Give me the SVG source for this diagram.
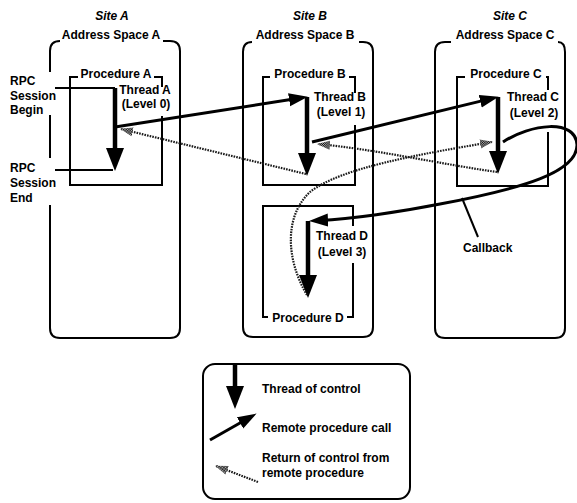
<svg xmlns="http://www.w3.org/2000/svg" width="577" height="503" viewBox="0 0 577 503">
<style>
text{font-family:"Liberation Sans",Arial,sans-serif;font-size:12px;font-weight:bold;fill:#000}
.site{font-style:italic}
.mid{text-anchor:middle}
.box{fill:none;stroke:#000;stroke-width:2}
.thread{fill:none;stroke:#000;stroke-width:4.5;marker-end:url(#thr)}
.rpc{fill:none;stroke:#000;stroke-width:3;marker-end:url(#call)}
.ret{fill:none;stroke:#1a1a1a;stroke-width:2.2;stroke-dasharray:1.6 1.1;marker-end:url(#back)}
.lead{fill:none;stroke:#000;stroke-width:2}
</style>
<defs>
<pattern id="chk" width="2" height="2" patternUnits="userSpaceOnUse"><rect width="2" height="2" fill="#bbb"/><rect width="1" height="1" fill="#000"/><rect x="1" y="1" width="1" height="1" fill="#000"/></pattern>
<marker id="thr" markerUnits="userSpaceOnUse" markerWidth="24" markerHeight="20" viewBox="0 0 24 20" refX="12" refY="9" orient="auto"><path d="M0 0 L23 9 L0 18 Z" fill="#000"/></marker>
<marker id="call" markerUnits="userSpaceOnUse" markerWidth="20" markerHeight="14" viewBox="0 0 20 14" refX="8" refY="6.5" orient="auto"><path d="M0 0 L19 6.5 L0 13 Z" fill="#000"/></marker>
<marker id="back" markerUnits="userSpaceOnUse" markerWidth="16" markerHeight="12" viewBox="0 0 16 12" refX="12" refY="5.5" orient="auto"><path d="M0 1 L13 5.5 L0 10 Z" fill="url(#chk)"/></marker>
</defs>

<g id="siteA">
<text class="site mid" x="112" y="20">Site A</text>
<text class="mid" x="111" y="39">Address Space A</text>
<path class="box" d="M50 72 V51 Q50 41 60 41 M163 41 H170 Q180 41 180 51 V328 Q180 338 170 338 H60 Q50 338 50 328 V205 M50 158 V115"/>
<text x="10" y="85">RPC</text>
<text x="10" y="100">Session</text>
<text x="10" y="114">Begin</text>
<text x="10" y="172">RPC</text>
<text x="10" y="187">Session</text>
<text x="10" y="202">End</text>
</g>
<g id="procA">
<path class="box" d="M78 77 H70 V185 H162 V116 M162 87 V77 H154"/>
<text class="mid" x="116" y="78">Procedure A</text>
<path class="lead" d="M55 88 H115 M55 170 H113"/>
<line class="thread" x1="115" y1="88" x2="115" y2="160"/>
<text class="mid" x="145" y="94">Thread A</text>
<text class="mid" x="146" y="108">(Level 0)</text>
</g>

<g id="siteB">
<text class="site mid" x="310" y="20">Site B</text>
<text class="mid" x="305" y="39">Address Space B</text>
<path class="box" d="M252 42 Q243 42 243 52 V327 Q243 337 253 337 H363 Q373 337 373 327 V52 Q373 42 363 42 H359"/>
</g>
<g id="procB">
<path class="box" d="M270 77 H263 V185 H355 V125 M355 93 V77 H349"/>
<text class="mid" x="310" y="78">Procedure B</text>
<line class="thread" x1="307" y1="97" x2="307" y2="165"/>
<text class="mid" x="340" y="101">Thread B</text>
<text class="mid" x="341" y="116">(Level 1)</text>
</g>
<g id="procD">
<path class="box" d="M353 226 V206 H263 V317 H268 M347 317 H353 V263"/>
<text class="mid" x="308" y="322">Procedure D</text>
<line class="thread" x1="308" y1="221" x2="308" y2="287"/>
<text class="mid" x="342" y="240">Thread D</text>
<text class="mid" x="342" y="256">(Level 3)</text>
</g>

<g id="siteC">
<text class="site mid" x="510" y="20">Site C</text>
<text class="mid" x="505" y="39">Address Space C</text>
<path class="box" d="M451 42 H445 Q435 42 435 52 V328 Q435 338 445 338 H555 Q565 338 565 328 V52 Q565 42 558 42"/>
</g>
<g id="procC">
<path class="box" d="M465 77 H457 V186 H548 V132 M548 90 V77 H546"/>
<text class="mid" x="506" y="78">Procedure C</text>
<line class="thread" x1="498" y1="97" x2="498" y2="163"/>
<text class="mid" x="533" y="101">Thread C</text>
<text class="mid" x="534" y="117">(Level 2)</text>
</g>

<g id="connectors">
<path class="rpc" d="M115 127 L297 98.5"/>
<path class="rpc" d="M312 142 L488 99.4"/>
<path class="rpc" d="M503 142 C530 124 576 118 577 145 C577 172 525 188 440 204 C400 212 350 219 320 220.5"/>
<path class="ret" d="M306 174 L121 129"/>
<path class="ret" d="M497 172 C440 164 380 150 318 144"/>
<path class="ret" d="M307 295 C285 258 285 215 310 192 C340 168 420 154 492 142"/>
<path class="lead" d="M462 198 L478 237"/>
<text x="463" y="252">Callback</text>
</g>

<g id="legend">
<rect class="box" x="203" y="364" width="207" height="135" rx="12"/>
<line class="thread" x1="235" y1="364" x2="235" y2="398"/>
<text x="262" y="393">Thread of control</text>
<path class="rpc" d="M210 440 L247 419"/>
<text x="262" y="432">Remote procedure call</text>
<path class="ret" d="M258 482 L216 466"/>
<text x="262" y="462">Return of control from</text>
<text x="262" y="477">remote procedure</text>
</g>
</svg>
